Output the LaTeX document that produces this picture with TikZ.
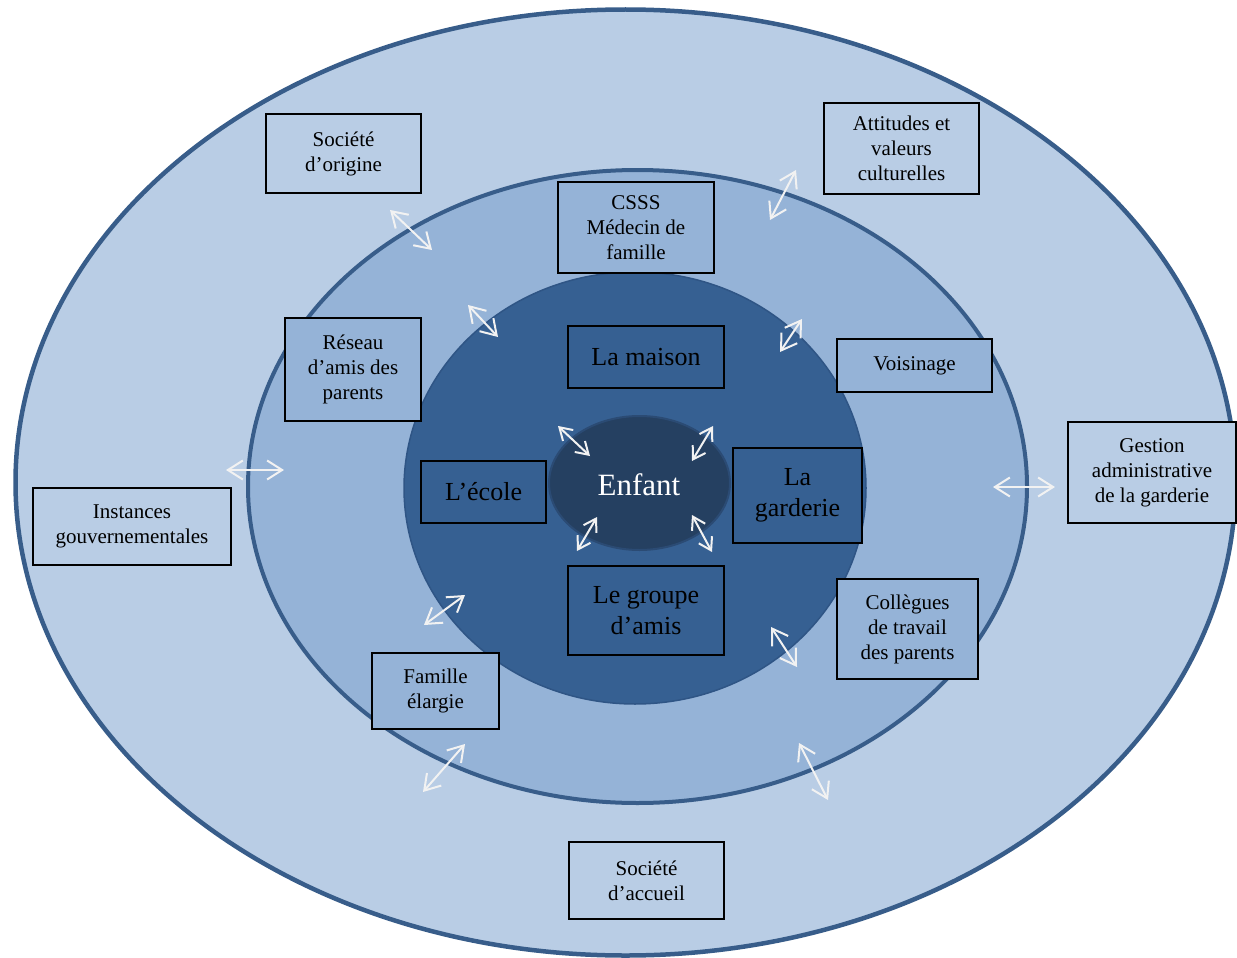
\documentclass[tikz,border=0pt]{standalone}
\usepackage{fontspec}
\setmainfont{Liberation Serif}
\usetikzlibrary{arrows.meta}

\definecolor{ringout}{HTML}{B9CDE5}
\definecolor{ringmid}{HTML}{95B3D7}
\definecolor{ringin}{HTML}{366092}
\definecolor{core}{HTML}{254061}
\definecolor{rim}{HTML}{385D8A}
\definecolor{rimin}{HTML}{2F5585}
\definecolor{rimcore}{HTML}{2B4B74}
\definecolor{arrowwhite}{HTML}{F2F2F2}

\begin{document}
\begin{tikzpicture}[x=1pt,y=-1pt,
	outerbox/.style={draw=black,line width=1.2pt,fill=ringout,align=center,inner sep=0pt,
		font=\fontsize{21}{25}\selectfont},
	midbox/.style={outerbox,fill=ringmid},
	innerbox/.style={outerbox,fill=ringin,font=\fontsize{26}{31}\selectfont},
	twoway/.style={draw=arrowwhite,line width=2pt,
		{Straight Barb[length=15pt,width=19pt]}-{Straight Barb[length=15pt,width=19pt]}},
	twowaysmall/.style={twoway,
		{Straight Barb[length=12pt,width=15pt]}-{Straight Barb[length=12pt,width=15pt]}}]
	\useasboundingbox (0,0) rectangle (1237,958);

	% Rings, from outside to inside
	\draw[draw=rim,fill=ringout,line width=4.5pt] (625.5,482.5) ellipse [x radius=610pt, y radius=473pt];
	\draw[draw=rim,fill=ringmid,line width=4pt] (637.5,486.5) ellipse [x radius=389.5pt, y radius=316.5pt];
	\draw[draw=rimin,fill=ringin,line width=1.5pt] (635,488) ellipse [x radius=231pt, y radius=216pt];
	\draw[draw=rimcore,fill=core,line width=2pt] (639.5,483) ellipse [x radius=90.5pt, y radius=67pt];
	\node[text=white,font=\fontsize{31}{37}\selectfont] (enfant) at (639,485) {Enfant};

	% Outer ring
	\node[outerbox,minimum width=155pt,minimum height=79pt] (origine) at (343.5,153.5) {Société\\d’origine};
	\node[outerbox,minimum width=155pt,minimum height=91pt] (attitudes) at (901.5,148.5) {Attitudes et\\valeurs\\culturelles};
	\node[outerbox,minimum width=168pt,minimum height=101pt] (gestion) at (1152,472.5) {Gestion\\administrative\\de la garderie};
	\node[outerbox,minimum width=198pt,minimum height=77pt] (instances) at (132,526.5) {Instances\\gouvernementales};
	\node[outerbox,minimum width=155pt,minimum height=77pt] (accueil) at (646.5,880.5) {Société\\d’accueil};

	% Middle ring
	\node[midbox,minimum width=156pt,minimum height=91pt] (csss) at (636,227.5) {CSSS\\Médecin de\\famille};
	\node[midbox,minimum width=136pt,minimum height=103pt] (reseau) at (353,369.5) {Réseau\\d’amis des\\parents};
	\node[midbox,minimum width=155pt,minimum height=53pt] (voisinage) at (914.5,365.5) {Voisinage};
	\node[midbox,minimum width=127pt,minimum height=76pt] (famille) at (435.5,691) {Famille\\élargie};
	\node[midbox,minimum width=141pt,minimum height=100pt] (collegues) at (907.5,629) {Collègues\\de travail\\des parents};

	% Inner ring
	\node[innerbox,minimum width=156pt,minimum height=62pt] (maison) at (646,357) {La maison};
	\node[innerbox,minimum width=125pt,minimum height=62pt] (ecole) at (483.5,492) {L’école};
	\node[innerbox,minimum width=129pt,minimum height=95pt] (garderie) at (797.5,495.5) {La\\garderie};
	\node[innerbox,minimum width=156pt,minimum height=89pt] (groupe) at (646,610.5) {Le groupe\\d’amis};

	% Exchanges between the rings
	\foreach \n/\xa/\ya/\xb/\yb in {1/390/210/432/250, 2/796/170/770/220, 3/468/305/498/337,
		4/802/319/780/352, 5/226/470/284/470, 6/993/487/1055/487, 7/465/595/424/625,
		8/465/744/423/792, 9/771/627/797/667, 10/799/743/828/800}
	{
		\coordinate (p\n) at (\xa,\ya);
		\coordinate (q\n) at (\xb,\yb);
		\draw[twoway] (p\n) -- (q\n);
	}

	% Exchanges around the child
	\foreach \n/\xa/\ya/\xb/\yb in {1/558/426/590/456, 2/713/426/692/461,
		3/597/517/577/551, 4/692/515/712/552}
	{
		\coordinate (c\n) at (\xa,\ya);
		\coordinate (d\n) at (\xb,\yb);
		\draw[twowaysmall] (c\n) -- (d\n);
	}
\end{tikzpicture}
\end{document}
